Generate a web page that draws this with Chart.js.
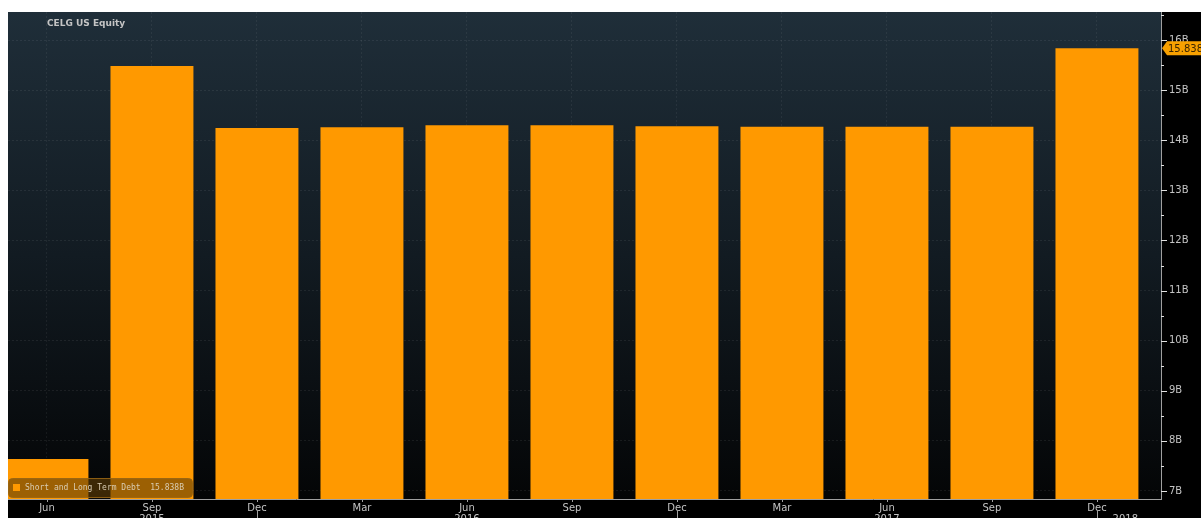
<!DOCTYPE html>
<html>
<head>
<meta charset="utf-8">
<script src="https://cdn.jsdelivr.net/npm/chart.js@4.4.0/dist/chart.umd.min.js"></script>
<style>
  html, body { margin: 0; padding: 0; background: #fff; }
  #wrap { position: absolute; left: 8px; top: 12px; width: 1193px; height: 506px; background: #000; }
</style>
</head>
<body>
<div id="wrap"><canvas id="chart"></canvas></div>
<script>
// --- data (billions USD)
const months = ["Jun", "Sep", "Dec", "Mar", "Jun", "Sep", "Dec", "Mar", "Jun", "Sep", "Dec"];
const debt = [7.64, 15.48, 14.245, 14.26, 14.30, 14.30, 14.28, 14.27, 14.27, 14.27, 15.838];
// year labels: [position on x axis (bar index), text]
const years = [[1, "2015"], [4, "2016"], [8, "2017"], [10.27, "2018"]];
const yTicks = [7, 8, 9, 10, 11, 12, 13, 14, 15, 16];
const lastLabel = "15.838";
const legendText = "Short and Long Term Debt  15.838B";
const title = "CELG US Equity";

const ORANGE = "#ff9900";
const AXIS = "#a0a0a0";
const TXT = "#c4c4c4";

// dark gradient behind the plot area
const bgPlugin = {
  id: "bg",
  beforeDraw(chart) {
    const { ctx, chartArea: a } = chart;
    const g = ctx.createLinearGradient(0, a.top, 0, a.bottom);
    g.addColorStop(0, "#1f2e39");
    g.addColorStop(0.5, "#121b22");
    g.addColorStop(1, "#040506");
    ctx.save();
    ctx.fillStyle = g;
    ctx.fillRect(a.left, a.top, a.right - a.left, a.bottom - a.top);
    ctx.restore();
  }
};

// axis lines, tick marks, year labels, legend box, last value tag, title
const overlay = {
  id: "overlay",
  afterDraw(chart) {
    const { ctx, chartArea: a, scales } = chart;
    const x = scales.x, y = scales.y;
    ctx.save();
    // axis lines
    ctx.strokeStyle = AXIS;
    ctx.lineWidth = 1;
    ctx.beginPath();
    ctx.moveTo(a.left, a.bottom + 0.5); ctx.lineTo(a.right + 1, a.bottom + 0.5);
    ctx.moveTo(a.right + 0.5, 0); ctx.lineTo(a.right + 0.5, a.bottom + 1);
    ctx.stroke();
    // y tick marks (major + minor)
    ctx.strokeStyle = "#e0e0e0";
    ctx.beginPath();
    yTicks.forEach(v => {
      const py = Math.round(y.getPixelForValue(v)) + 0.5;
      ctx.moveTo(a.right, py); ctx.lineTo(a.right + 6, py);
      const pm = Math.round(y.getPixelForValue(v + 0.5)) + 0.5;
      if (pm > a.top) { ctx.moveTo(a.right, pm); ctx.lineTo(a.right + 3, pm); }
    });
    ctx.stroke();
    // x tick marks
    ctx.strokeStyle = AXIS;
    ctx.beginPath();
    months.forEach((m, i) => {
      const px = Math.round(x.getPixelForValue(i)) + 0.5;
      ctx.moveTo(px, a.bottom); ctx.lineTo(px, a.bottom + 3);
      if (m === "Dec") { ctx.moveTo(px, a.bottom + 11); ctx.lineTo(px, a.bottom + 25); }
    });
    ctx.stroke();
    // year labels
    ctx.fillStyle = TXT;
    ctx.font = "10px 'DejaVu Sans'";
    ctx.textAlign = "center";
    ctx.textBaseline = "middle";
    years.forEach(([p, t]) => ctx.fillText(t, x.getPixelForValue(p), a.bottom + 20));
    // legend box
    const lx = a.left, ly = a.bottom - 21, lw = 184, lh = 19;
    ctx.beginPath();
    ctx.roundRect(lx + 0.5, ly + 0.5, lw, lh, 4);
    ctx.fillStyle = "rgba(95,62,5,0.62)";
    ctx.fill();
    ctx.strokeStyle = "rgba(150,100,20,0.9)";
    ctx.stroke();
    ctx.fillStyle = ORANGE;
    ctx.fillRect(lx + 5, ly + 6, 7, 7);
    ctx.fillStyle = "#d9ccb2";
    ctx.font = "8px 'DejaVu Sans Mono'";
    ctx.textAlign = "left";
    ctx.fillText(legendText, lx + 17, ly + 10);
    // last value tag on the right axis
    const ty = y.getPixelForValue(debt[debt.length - 1]);
    const tx = a.right + 1;
    ctx.beginPath();
    ctx.moveTo(tx, ty);
    ctx.lineTo(tx + 5, ty - 7);
    ctx.lineTo(tx + 60, ty - 7);
    ctx.lineTo(tx + 60, ty + 7);
    ctx.lineTo(tx + 5, ty + 7);
    ctx.closePath();
    ctx.fillStyle = "#f7a000";
    ctx.fill();
    ctx.fillStyle = "#3a2400";
    ctx.font = "10px 'DejaVu Sans'";
    ctx.fillText(lastLabel, tx + 6, ty + 1);
    // title
    ctx.fillStyle = TXT;
    ctx.font = "bold 9px 'DejaVu Sans'";
    ctx.fillText(title, 39, 12);
    ctx.restore();
  }
};

new Chart(document.getElementById("chart"), {
  type: "bar",
  data: {
    datasets: [{
      data: debt.map((v, i) => ({ x: i, y: v })),
      backgroundColor: ORANGE,
      borderWidth: 0,
      barPercentage: 0.79,
      categoryPercentage: 1
    }]
  },
  options: {
    responsive: true,
    maintainAspectRatio: false,
    animation: false,
    layout: { padding: 0 },
    plugins: { legend: { display: false }, tooltip: { enabled: false } },
    scales: {
      x: {
        type: "linear",
        offset: false,
        min: -0.371,
        max: 10.61,
        afterFit: s => { s.height = 19; s.paddingLeft = 0; s.paddingRight = 0; },
        afterBuildTicks: s => { s.ticks = months.map((m, i) => ({ value: i })); },
        ticks: {
          color: TXT,
          font: { family: "DejaVu Sans", size: 10 },
          padding: 3,
          maxRotation: 0,
          autoSkip: false,
          callback: (v) => months[v]
        },
        grid: { offset: false, color: "rgba(255,255,255,0.06)", drawTicks: false, tickLength: 0 },
        border: { display: false, dash: [2, 2] }
      },
      y: {
        position: "right",
        min: 6.84,
        max: 16.56,
        afterFit: s => { s.width = 40; s.paddingTop = 0; s.paddingBottom = 0; },
        afterBuildTicks: s => { s.ticks = yTicks.map(v => ({ value: v })); },
        ticks: {
          color: TXT,
          font: { family: "DejaVu Sans", size: 10 },
          padding: 8,
          callback: v => v + "B"
        },
        grid: { color: "rgba(255,255,255,0.07)", drawTicks: false, tickLength: 0 },
        border: { display: false, dash: [2, 2] }
      }
    }
  },
  plugins: [bgPlugin, overlay]
});
</script>
</body>
</html>
